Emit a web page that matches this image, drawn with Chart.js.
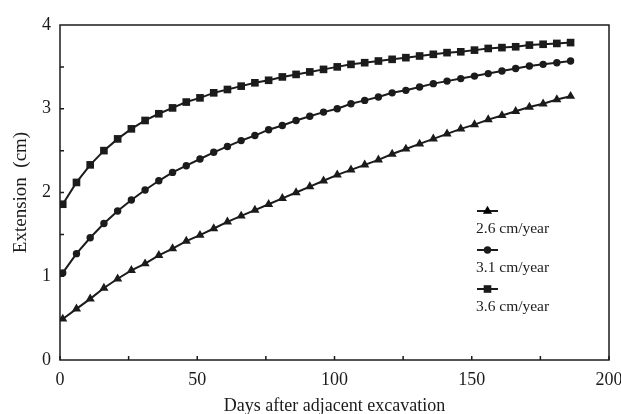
<!DOCTYPE html>
<html>
<head>
<meta charset="utf-8">
<script src="https://cdn.jsdelivr.net/npm/chart.js@4.4.0/dist/chart.umd.min.js"></script>
<style>
  html, body { margin: 0; padding: 0; background: #fff; }
  #wrap { width: 621px; height: 414px; position: relative; }
</style>
</head>
<body>
<div id="wrap"><canvas id="myChart" width="621" height="414"></canvas></div>
<script>
// days after excavation (x positions of the markers)
const days = [1, 6, 11, 16, 21, 26, 31, 36, 41, 46, 51, 56, 61, 66, 71, 76, 81, 86, 91, 96,
    101, 106, 111, 116, 121, 126, 131, 136, 141, 146, 151, 156, 161, 166, 171, 176, 181, 186];

const rate26 = [0.49, 0.61, 0.73, 0.86, 0.97, 1.07, 1.15, 1.25, 1.33, 1.42, 1.49, 1.57, 1.65, 1.72, 1.79,
    1.86, 1.93, 2.00, 2.07, 2.14, 2.21, 2.27, 2.33, 2.39, 2.46, 2.52, 2.58,
    2.64, 2.70, 2.76, 2.81, 2.87, 2.92, 2.97, 3.02, 3.06, 3.11, 3.15];
const rate31 = [1.04, 1.27, 1.46, 1.63, 1.78, 1.91, 2.03, 2.14, 2.24, 2.32, 2.40, 2.48, 2.55, 2.62, 2.68,
    2.75, 2.80, 2.86, 2.91, 2.96, 3.00, 3.06, 3.10, 3.14, 3.19, 3.22, 3.26,
    3.30, 3.33, 3.36, 3.39, 3.42, 3.45, 3.48, 3.51, 3.53, 3.55, 3.57];
const rate36 = [1.86, 2.12, 2.33, 2.50, 2.64, 2.76, 2.86, 2.94, 3.01, 3.08, 3.13, 3.19, 3.23, 3.27, 3.31,
    3.34, 3.38, 3.41, 3.44, 3.47, 3.50, 3.53, 3.55, 3.57, 3.59, 3.61, 3.63,
    3.65, 3.67, 3.68, 3.70, 3.72, 3.73, 3.74, 3.76, 3.77, 3.78, 3.79];

const seriesLabels = ['2.6 cm/year', '3.1 cm/year', '3.6 cm/year'];
const xLabels = [0, 50, 100, 150, 200];
const xMinor = [25, 75, 125, 175];
const yTicks = [0.5, 1, 1.5, 2, 2.5, 3, 3.5];

const serif = "'Liberation Serif', 'Times New Roman', serif";
const ink = '#1b1b1b';

function pts(vals) {
    return days.map((d, i) => ({ x: d, y: vals[i] }));
}

function ds(label, vals, style, r) {
    return {
        label: label,
        data: pts(vals),
        borderColor: ink,
        backgroundColor: ink,
        borderWidth: 2,
        pointStyle: style,
        pointRadius: r,
        pointBorderWidth: 0,
        pointBackgroundColor: ink,
        tension: 0
    };
}

// frame, inside ticks and the stacked legend
const decor = {
    id: 'decor',
    afterDraw(chart) {
        const ctx = chart.ctx;
        const a = chart.chartArea;
        const xs = chart.scales.x, ys = chart.scales.y;
        ctx.save();
        ctx.strokeStyle = ink;
        ctx.lineWidth = 1.5;
        ctx.strokeRect(a.left, a.top, a.right - a.left, a.bottom - a.top);
        ctx.beginPath();
        xLabels.concat(xMinor).forEach(v => {
            const px = xs.getPixelForValue(v);
            ctx.moveTo(px, a.bottom);
            ctx.lineTo(px, a.bottom - 4);
        });
        yTicks.forEach(v => {
            const py = ys.getPixelForValue(v);
            ctx.moveTo(a.left, py);
            ctx.lineTo(a.left + 4, py);
        });
        ctx.stroke();

        // legend: marker with short line, label underneath
        const lx = 477, ly = [211, 250, 289];
        chart.data.datasets.forEach((d, i) => {
            const y = ly[i];
            ctx.strokeStyle = ink;
            ctx.lineWidth = 2;
            ctx.beginPath();
            ctx.moveTo(lx, y);
            ctx.lineTo(lx + 21, y);
            ctx.stroke();
            Chart.helpers.drawPoint(ctx, {
                pointStyle: d.pointStyle, radius: d.pointRadius, borderWidth: 0, rotation: 0
            }, lx + 10.5, y);
            ctx.fillStyle = ink;
            ctx.font = '15.5px ' + serif;
            ctx.textAlign = 'left';
            ctx.textBaseline = 'middle';
            ctx.fillText(d.label, lx - 1, y + 18);
        });
        ctx.restore();
    }
};

new Chart(document.getElementById('myChart').getContext('2d'), {
    type: 'line',
    data: {
        datasets: [
            ds(seriesLabels[0], rate26, 'triangle', 5.3),
            ds(seriesLabels[1], rate31, 'circle', 3.7),
            ds(seriesLabels[2], rate36, 'rect', 5.4)
        ]
    },
    options: {
        responsive: false,
        animation: false,
        events: [],
        layout: { padding: { top: 25, right: 12, left: 0, bottom: 0 } },
        plugins: { legend: { display: false }, tooltip: { enabled: false } },
        scales: {
            x: {
                type: 'linear',
                min: 0, max: 200,
                afterFit: s => { s.height = 54; s.paddingLeft = 0; s.paddingRight = 0; },
                afterBuildTicks: s => { s.ticks = xLabels.map(v => ({ value: v })); },
                grid: { display: false, drawTicks: false },
                border: { display: false },
                ticks: { color: ink, padding: 9, maxRotation: 0, font: { family: serif, size: 18 } },
                title: {
                    display: true, text: 'Days after adjacent excavation', color: ink,
                    font: { family: serif, size: 18 }, padding: { top: 0, bottom: -3 }
                }
            },
            y: {
                min: 0, max: 4,
                afterFit: s => { s.width = 60; s.paddingTop = 0; s.paddingBottom = 0; },
                ticks: { stepSize: 1, color: ink, padding: 9, font: { family: serif, size: 18 } },
                grid: { display: false, drawTicks: false },
                border: { display: false },
                title: {
                    display: true, text: 'Extension  (cm)', color: ink,
                    font: { family: serif, size: 19 }, padding: { top: 10, bottom: 0 }
                }
            }
        }
    },
    plugins: [decor]
});
</script>
</body>
</html>
